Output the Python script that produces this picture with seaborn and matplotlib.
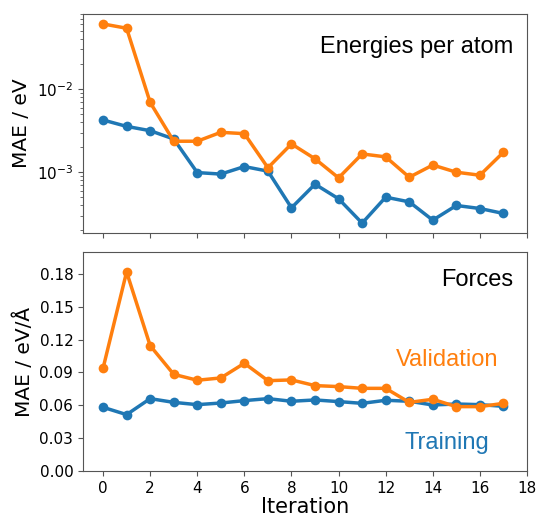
import numpy as np
import pandas as pd
import seaborn as sns
import matplotlib.pyplot as plt
from matplotlib.ticker import FormatStrFormatter

iteration = list(range(18))

# MAE energies per atom (eV)
energy_train = [0.00425, 0.00356, 0.00316, 0.00251, 0.00099, 0.00095, 0.00117, 0.00103, 0.000373,
                0.000718, 0.000479, 0.000244, 0.000501, 0.00044, 0.000265, 0.000398, 0.000366, 0.000319]
energy_val = [0.0608, 0.054, 0.00692, 0.00236, 0.00236, 0.00302, 0.00291, 0.00113, 0.00219,
              0.00145, 0.000855, 0.00166, 0.00153, 0.00087, 0.00122, 0.00100, 0.00092, 0.00174]

# MAE forces (eV/Å)
force_train = [0.0582, 0.0515, 0.0661, 0.0627, 0.0606, 0.0621, 0.0643, 0.0661, 0.0637,
               0.0649, 0.0634, 0.0618, 0.0646, 0.0637, 0.0603, 0.0612, 0.0606, 0.0591]
force_val = [0.0938, 0.1818, 0.1145, 0.0883, 0.0829, 0.0850, 0.0984, 0.0825, 0.0832,
             0.0780, 0.0771, 0.0755, 0.0755, 0.0627, 0.0655, 0.0588, 0.0588, 0.0618]

blue = '#1f77b4'
orange = '#ff7f0e'
spine_col = '#555555'

plt.rcParams['font.family'] = 'DejaVu Sans'
plt.rcParams['axes.edgecolor'] = spine_col
plt.rcParams['xtick.color'] = spine_col
plt.rcParams['ytick.color'] = spine_col
plt.rcParams['xtick.labelcolor'] = 'black'
plt.rcParams['ytick.labelcolor'] = 'black'

energies = pd.DataFrame({'Iteration': iteration, 'train': energy_train, 'val': energy_val})
forces = pd.DataFrame({'Iteration': iteration, 'train': force_train, 'val': force_val})

fig = plt.figure(figsize=(5.37, 5.18), dpi=100)
ax1 = fig.add_axes([0.1546, 0.550, 0.8268, 0.423])
ax2 = fig.add_axes([0.1546, 0.0907, 0.8268, 0.4228], sharex=ax1)

line_kw = dict(marker='o', markersize=7, markeredgewidth=0, linewidth=2.5)

sns.lineplot(data=energies, x='Iteration', y='train', color=blue, ax=ax1, **line_kw)
sns.lineplot(data=energies, x='Iteration', y='val', color=orange, ax=ax1, **line_kw)
ax1.set_yscale('log')
ax1.set_ylabel('MAE / eV', fontsize=14.5)
ax1.set_xlabel('')
ax1.tick_params(labelbottom=False, labelsize=11)
ax1.text(0.969, 0.82, 'Energies per atom', transform=ax1.transAxes, ha='right', va='baseline',
         fontsize=17, family='Liberation Sans')

sns.lineplot(data=forces, x='Iteration', y='train', color=blue, ax=ax2, **line_kw)
sns.lineplot(data=forces, x='Iteration', y='val', color=orange, ax=ax2, **line_kw)
ax2.set_ylim(0, 0.2)
ax2.set_yticks(np.arange(0, 0.19, 0.03))
ax2.yaxis.set_major_formatter(FormatStrFormatter('%.2f'))
ax2.set_xlim(-0.85, 18)
ax2.set_xticks(range(0, 19, 2))
ax2.set_ylabel('MAE / eV/Å', fontsize=14.5)
ax2.set_xlabel('Iteration', fontsize=15, labelpad=1)
ax2.tick_params(labelsize=11)
ax2.text(0.969, 0.845, 'Forces', transform=ax2.transAxes, ha='right', va='baseline',
         fontsize=17, family='Liberation Sans')
ax2.text(0.82, 0.479, 'Validation', transform=ax2.transAxes, ha='center', va='baseline',
         fontsize=17, color=orange, family='Liberation Sans')
ax2.text(0.82, 0.099, 'Training', transform=ax2.transAxes, ha='center', va='baseline',
         fontsize=17, color=blue, family='Liberation Sans')

fig.savefig('out.png', dpi=100)
